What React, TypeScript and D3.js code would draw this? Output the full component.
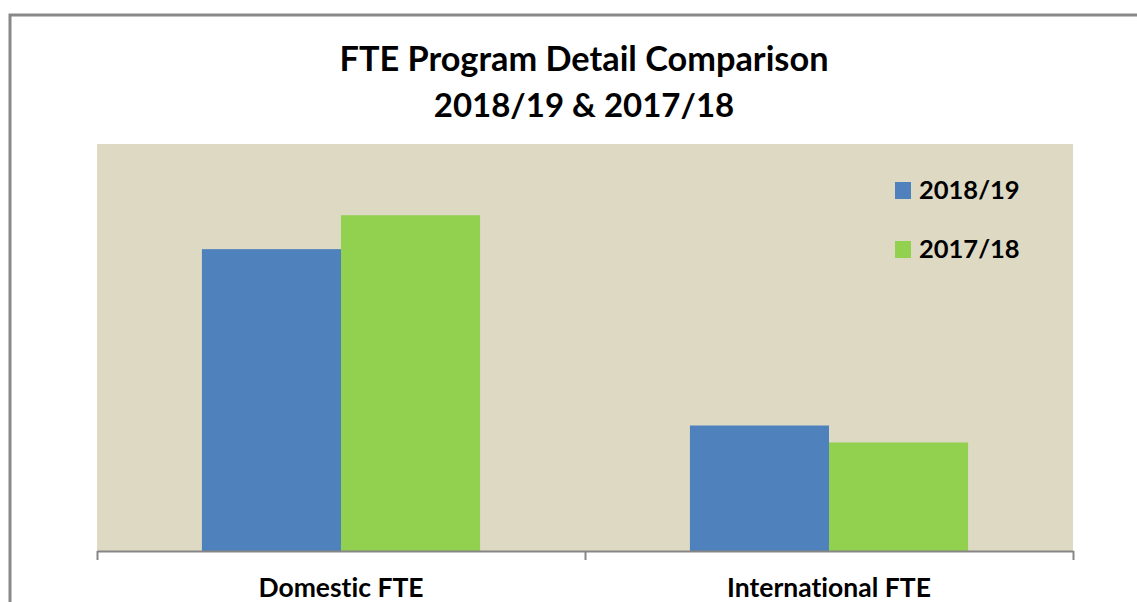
import React, { useEffect, useRef } from "react";
import * as d3 from "d3";

const categories = ["Domestic FTE", "International FTE"];
const seriesNames = ["2018/19", "2017/18"];
const values2018_19 = [8900, 3700];
const values2017_18 = [9900, 3200];
const seriesColors = ["#4F81BD", "#92D050"];
const titleLines = ["FTE Program Detail Comparison", "2018/19 & 2017/18"];

const W = 1137;
const H = 602;
const plot = { left: 97, right: 1073, top: 144, bottom: 551 };
const FONT = "Lato, 'Open Sans', sans-serif";

export default function App() {
  const axisRef = useRef<SVGGElement>(null);
  const pi = 0.43;
  const po = 0.215;
  const x0 = d3.scaleBand<string>().domain(categories).range([plot.left, plot.right]).paddingInner(pi).paddingOuter(po);
  const x1 = d3.scaleBand<string>().domain(seriesNames).range([0, x0.bandwidth()]).padding(0);
  const y = d3.scaleLinear().domain([0, 12000]).range([plot.bottom, plot.top]);
  const seriesValues = [values2018_19, values2017_18];
  const step = x0.step();
  const boundaries = [plot.left, ...categories.map((c) => (x0(c) as number) - po * step + step)];

  useEffect(() => {
    if (!axisRef.current) return;
    const bscale = d3.scaleLinear().domain([plot.left, plot.right]).range([plot.left, plot.right]);
    const axis = d3.axisBottom(bscale).tickValues(boundaries).tickSize(9).tickSizeOuter(0).tickFormat(() => "");
    const g = d3.select(axisRef.current);
    g.call(axis as any);
    g.selectAll("path,line").attr("stroke", "#868686").attr("stroke-width", 2);
  }, []);

  return (
    <svg width={W} height={H} style={{ position: "absolute", left: 0, top: 0, background: "#fff", fontVariantLigatures: "none" }} fontFamily={FONT}>
      <rect x={10} y={15} width={W + 20} height={H + 20} fill="#fff" stroke="#888" strokeWidth={3} />
      <rect x={plot.left} y={plot.top} width={plot.right - plot.left} height={plot.bottom - plot.top} fill="#DDD9C3" />
      {categories.map((c, ci) => (
        <g key={c}>
          {seriesNames.map((s, si) => {
            const v = seriesValues[si][ci];
            return (
              <rect
                key={s}
                x={(x0(c) as number) + (x1(s) as number)}
                y={y(v)}
                width={x1.bandwidth()}
                height={y(0) - y(v)}
                fill={seriesColors[si]}
              />
            );
          })}
        </g>
      ))}
      <g ref={axisRef} transform={`translate(0,${plot.bottom})`} />
      {categories.map((c) => (
        <text key={c} x={(x0(c) as number) + x0.bandwidth() / 2} y={597} textAnchor="middle" fontWeight={700} fontSize={26.5} fill="#000">
          {c}
        </text>
      ))}
      <text x={584} y={71} textAnchor="middle" fontWeight={700} fontSize={34.3} fill="#000">{titleLines[0]}</text>
      <text x={584} y={117} textAnchor="middle" fontWeight={700} fontSize={33} fill="#000">{titleLines[1]}</text>
      {seriesNames.map((s, i) => (
        <g key={s} transform={`translate(895,${182 + i * 59})`}>
          <rect x={0} y={0} width={16} height={17} fill={seriesColors[i]} />
          <text x={24} y={17} fontWeight={700} fontSize={25.5} fill="#000">{s}</text>
        </g>
      ))}
    </svg>
  );
}
